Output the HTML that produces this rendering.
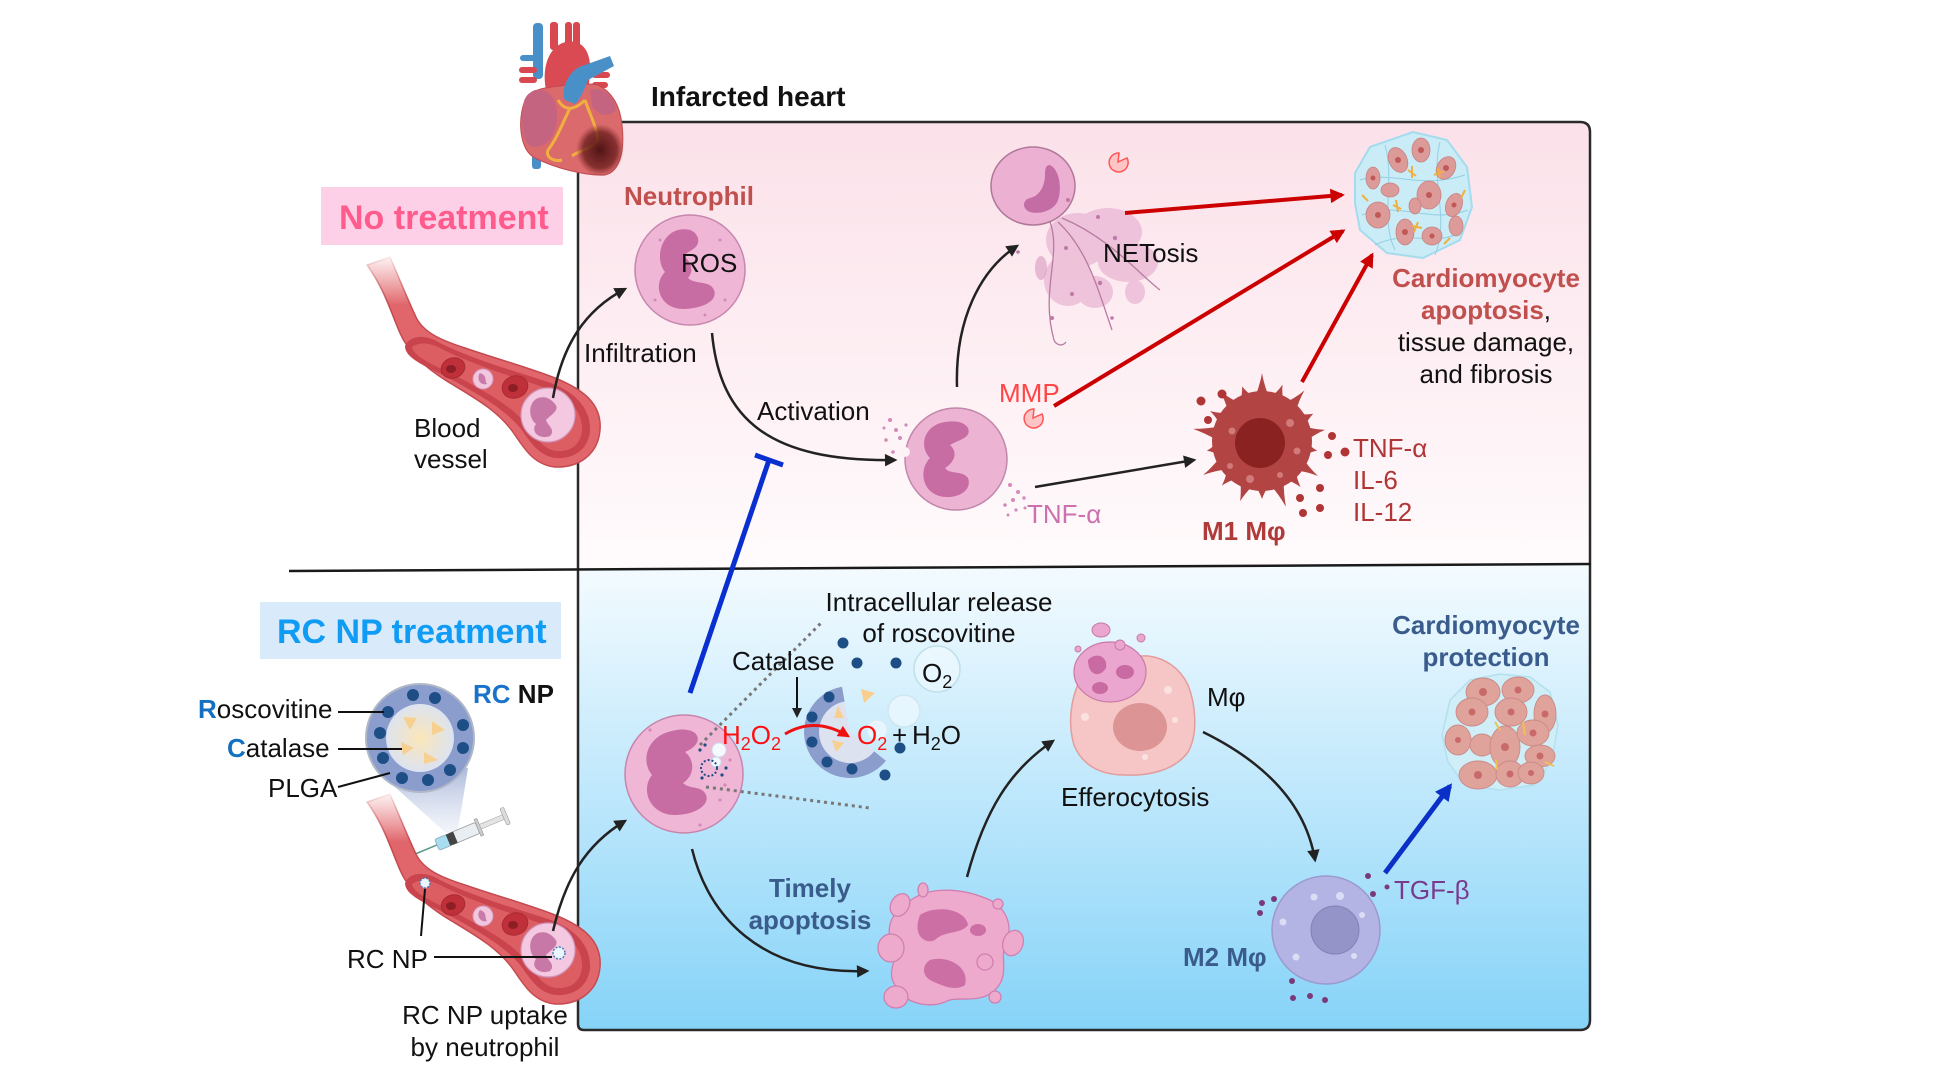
<!DOCTYPE html>
<html><head><meta charset="utf-8">
<style>html,body{margin:0;padding:0;background:#fff;}svg{display:block}</style>
</head><body>
<svg width="1956" height="1069" viewBox="0 0 1956 1069" xmlns="http://www.w3.org/2000/svg" font-family="'Liberation Sans', Arial, sans-serif">
<defs>
  <linearGradient id="gUp" gradientUnits="userSpaceOnUse" x1="0" y1="122" x2="0" y2="567">
    <stop offset="0" stop-color="#fbe1e9"/><stop offset="1" stop-color="#fffbfc"/>
  </linearGradient>
  <linearGradient id="gDown" gradientUnits="userSpaceOnUse" x1="0" y1="567" x2="0" y2="1030">
    <stop offset="0" stop-color="#f4fbff"/><stop offset="1" stop-color="#86d3f8"/>
  </linearGradient>
  <linearGradient id="gVes" gradientUnits="userSpaceOnUse" x1="0" y1="252" x2="0" y2="305">
    <stop offset="0" stop-color="#e8787c" stop-opacity="0"/><stop offset="1" stop-color="#e0666b"/>
  </linearGradient>
  <linearGradient id="gVesS" gradientUnits="userSpaceOnUse" x1="0" y1="252" x2="0" y2="305">
    <stop offset="0" stop-color="#c44a50" stop-opacity="0"/><stop offset="1" stop-color="#c44a50"/>
  </linearGradient>
  <linearGradient id="gCone" gradientUnits="userSpaceOnUse" x1="0" y1="772" x2="0" y2="845">
    <stop offset="0" stop-color="#aebbdc" stop-opacity="0.95"/><stop offset="1" stop-color="#dfe6f3" stop-opacity="0.2"/>
  </linearGradient>
  <radialGradient id="gInf" cx="0.5" cy="0.5" r="0.5">
    <stop offset="0" stop-color="#4a1010" stop-opacity="0.95"/><stop offset="0.7" stop-color="#6a1c1c" stop-opacity="0.75"/><stop offset="1" stop-color="#8a2a2a" stop-opacity="0"/>
  </radialGradient>
  <radialGradient id="gGlow" cx="0.5" cy="0.5" r="0.5">
    <stop offset="0" stop-color="#fbe6b8"/><stop offset="1" stop-color="#dce3f0"/>
  </radialGradient>
  <marker id="mk" viewBox="0 0 10 10" refX="8" refY="5" markerWidth="5.5" markerHeight="5" orient="auto"><path d="M0,0 L10,5 L0,10 Z" fill="#222"/></marker>
  <marker id="mr" viewBox="0 0 10 10" refX="8" refY="5" markerWidth="4.3" markerHeight="3.6" orient="auto"><path d="M0,0 L10,5 L0,10 Z" fill="#cc0000"/></marker>
  <marker id="mr2" viewBox="0 0 10 10" refX="8" refY="5" markerWidth="4.5" markerHeight="4" orient="auto"><path d="M0,0 L10,5 L0,10 Z" fill="#ee1111"/></marker>
  <marker id="mb" viewBox="0 0 10 10" refX="8" refY="5" markerWidth="3.8" markerHeight="3.4" orient="auto"><path d="M0,0 L10,5 L0,10 Z" fill="#0a30c8"/></marker>
</defs>

<rect width="1956" height="1069" fill="#fff"/>

<!-- main box fills -->
<path d="M578,122 H1580 Q1590,122 1590,132 V564 L578,569.4 Z" fill="url(#gUp)"/>
<path d="M578,569.4 L1590,564 V1020 Q1590,1030 1580,1030 H584 Q578,1030 578,1024 Z" fill="url(#gDown)"/>
<path d="M578,122 H1580 Q1590,122 1590,132 V1020 Q1590,1030 1580,1030 H584 Q578,1030 578,1024 Z" fill="none" stroke="#2a2a2a" stroke-width="2.5"/>
<line x1="289" y1="571" x2="1591" y2="564" stroke="#1a1a1a" stroke-width="2.5"/>

<!-- Heart -->
<g>
  <rect x="533" y="23" width="10" height="56" rx="4" fill="#4a90c8"/>
  <rect x="520" y="55" width="16" height="6" rx="3" fill="#4a90c8"/>
  <rect x="532" y="140" width="9" height="29" rx="3" fill="#4a90c8"/>
  <rect x="550" y="22" width="8" height="28" rx="3" fill="#d9474f"/>
  <rect x="565" y="22" width="7" height="26" rx="3" fill="#d9474f"/>
  <rect x="573" y="22" width="7" height="26" rx="3" fill="#d9474f"/>
  <path d="M546,90 C540,60 555,38 575,42 C592,46 592,70 588,88 Z" fill="#d94a52"/>
  <rect x="519" y="67" width="18" height="6" rx="3" fill="#d9474f"/>
  <rect x="519" y="77" width="18" height="6" rx="3" fill="#d9474f"/>
  <rect x="592" y="72" width="18" height="6" rx="3" fill="#d9474f"/>
  <rect x="592" y="82" width="16" height="6" rx="3" fill="#d9474f"/>
  <path d="M525,100 C517,122 520,150 535,158 C555,168 585,176 605,175 C620,172 625,150 622,125 C620,105 612,92 598,85 C580,82 560,86 545,88 C535,90 528,94 525,100 Z" fill="#da6a6c" stroke="#c04a50" stroke-width="1"/>
  <path d="M524,102 C520,122 522,140 530,146 C545,150 556,138 557,118 C558,98 548,88 535,90 C528,93 525,97 524,102 Z" fill="#c46480"/>
  <path d="M590,90 C602,86 615,96 616,110 C610,118 598,116 592,106 Z" fill="#c46480"/>
  <path d="M565,100 C560,92 568,70 582,66 L610,56 L614,66 L588,80 C584,90 580,100 575,104 Z" fill="#4a90c8"/>
  <path d="M558,100 C565,112 575,110 585,100 M585,100 C590,115 596,125 598,140 M570,108 C562,125 556,140 548,150 M598,140 C590,150 580,150 572,156 M548,150 C545,158 555,162 562,160" stroke="#f0b040" stroke-width="3" fill="none"/>
  <ellipse cx="600" cy="150" rx="24" ry="26" fill="url(#gInf)"/>
</g>

<!-- Labels -->
<text x="651" y="106" font-size="28" font-weight="bold" fill="#111">Infarcted heart</text>
<rect x="321" y="187" width="242" height="58" fill="#fdd0e8"/>
<text x="339" y="229" font-size="34" font-weight="bold" fill="#ff5c8d">No treatment</text>
<rect x="260" y="602" width="301" height="57" fill="#d9ebfb"/>
<text x="277" y="643" font-size="34" font-weight="bold" fill="#109cf5">RC NP treatment</text>

<!-- Upper vessel -->
<g id="ves">
  <path d="M390,257 C400,280 408,300 415,315 C422,332 440,340 465,348 C500,360 530,368 555,378 C585,390 602,405 600,430 C598,455 578,468 555,467 C535,465 525,450 515,435 C500,412 475,398 450,383 C425,368 408,352 400,333 C392,315 385,290 367,265 Z" fill="url(#gVes)" stroke="url(#gVesS)" stroke-width="1.5"/>
  <path d="M405,346 C410,335 425,334 440,343 C470,358 510,370 545,381 C576,391 591,409 590,431 C588,451 572,459 556,458 C539,456 531,443 521,429 C506,410 481,396 456,382 C431,368 405,360 405,346 Z" fill="#c9444c"/>
  <path d="M412,347 C420,341 432,343 444,350 C472,364 510,376 543,387 C570,396 583,412 582,431 C580,447 568,452 556,451 C543,449 536,438 527,425 C511,405 485,392 460,378 C437,366 414,358 412,347 Z" fill="#dc5e63"/>
  <ellipse cx="453" cy="368" rx="12" ry="10" transform="rotate(-20 453 368)" fill="#c0303a" stroke="#a82a32"/>
  <ellipse cx="451" cy="369" rx="5" ry="4" fill="#8e1e26"/>
  <ellipse cx="515" cy="387" rx="13" ry="11" transform="rotate(-20 515 387)" fill="#c0303a" stroke="#a82a32"/>
  <ellipse cx="513" cy="388" rx="5" ry="4" fill="#8e1e26"/>
  <circle cx="483" cy="379" r="10" fill="#f2c6df" stroke="#d39abc"/>
  <path d="M480,373 C476,378 480,386 487,384 C484,380 488,376 480,373Z" fill="#c87aa8"/>
  <circle cx="548" cy="415" r="27" fill="#f4c8e0" stroke="#d095b9" stroke-width="1.2"/>
  <path d="M538,398 C528,402 528,418 536,424 C530,432 540,440 550,436 C556,430 548,426 546,420 C552,414 560,410 555,404 C550,398 545,396 538,398Z" fill="#c878a6"/>
</g>
<text x="414" y="437" font-size="26" fill="#111">Blood</text>
<text x="414" y="468" font-size="26" fill="#111">vessel</text>

<!-- Upper neutrophil -->
<circle cx="690" cy="270" r="55" fill="#efb6d6" stroke="#c786ad" stroke-width="1.5"/>
<path d="M678,230 C660,235 655,260 665,272 C652,285 660,310 685,309 C705,308 718,300 714,290 C710,280 695,285 688,278 C695,270 690,260 683,256 C690,250 700,248 698,238 C695,230 688,228 678,230 Z" fill="#c86ca4"/>
<g fill="#d48ab8"><circle cx="660" cy="240" r="1.5"/><circle cx="720" cy="240" r="1.5"/><circle cx="725" cy="300" r="1.5"/><circle cx="655" cy="300" r="1.5"/><circle cx="705" cy="315" r="1.5"/></g>
<text x="681" y="272" font-size="26" fill="#111">ROS</text>
<text x="624" y="205" font-size="26" font-weight="bold" fill="#c0504d">Neutrophil</text>

<!-- arrows upper -->
<path d="M553,398 C562,345 585,310 625,289" fill="none" stroke="#222" stroke-width="2.5" marker-end="url(#mk)"/>
<text x="584" y="362" font-size="26" fill="#111">Infiltration</text>
<path d="M712,333 C720,420 770,462 895,460" fill="none" stroke="#222" stroke-width="2.5" marker-end="url(#mk)"/>
<text x="757" y="420" font-size="26" fill="#111">Activation</text>
<path d="M957,387 C955,320 980,270 1017,246" fill="none" stroke="#222" stroke-width="2.5" marker-end="url(#mk)"/>
<path d="M1035,487 L1194,460" fill="none" stroke="#222" stroke-width="2.5" marker-end="url(#mk)"/>

<!-- activated neutrophil -->
<g>
  <circle cx="956" cy="459" r="51" fill="#edb3d3" stroke="#c287ab" stroke-width="1.5"/>
  <circle cx="905" cy="452" r="5" fill="#fdf2f6"/>
  <circle cx="1005" cy="495" r="6" fill="#fdf6f8"/>
  <circle cx="1006" cy="432" r="4" fill="#fdf4f7"/>
  <path d="M945,422 C925,425 918,445 930,458 C918,470 922,495 945,497 C962,498 972,488 968,478 C962,470 950,475 945,468 C955,462 958,452 950,445 C958,440 972,438 968,428 C963,420 952,421 945,422 Z" fill="#c86ca4"/>
  <g fill="#d48ab8">
    <circle cx="890" cy="420" r="2"/><circle cx="896" cy="430" r="2"/><circle cx="886" cy="440" r="1.8"/><circle cx="900" cy="438" r="2"/><circle cx="893" cy="452" r="1.8"/><circle cx="884" cy="428" r="1.5"/><circle cx="906" cy="425" r="1.6"/>
    <circle cx="1010" cy="485" r="2"/><circle cx="1018" cy="492" r="2"/><circle cx="1013" cy="500" r="2"/><circle cx="1024" cy="498" r="1.7"/><circle cx="1005" cy="505" r="1.8"/><circle cx="1016" cy="510" r="1.6"/><circle cx="1025" cy="508" r="1.5"/><circle cx="1008" cy="515" r="1.5"/>
  </g>
</g>
<text x="1027" y="523" font-size="26" fill="#cc70b0">TNF-α</text>

<!-- MMP -->
<text x="999" y="402" font-size="26" fill="#ff4545">MMP</text>
<path d="M1033,418 L1042,414 A9.5,9.5 0 1 1 1034,409 Z" fill="#ffc4c4" stroke="#ff5555" stroke-width="1.5"/>
<path d="M1118,162 L1127,158 A9.5,9.5 0 1 1 1119,153 Z" fill="#ffc4c4" stroke="#ff5555" stroke-width="1.5"/>

<!-- NETosis -->
<g>
  <g fill="#e7afd0" opacity="0.65">
    <ellipse cx="1078" cy="240" rx="32" ry="27"/>
    <ellipse cx="1108" cy="232" rx="34" ry="24"/>
    <ellipse cx="1128" cy="262" rx="30" ry="20"/>
    <ellipse cx="1068" cy="280" rx="24" ry="26"/>
    <ellipse cx="1095" cy="292" rx="18" ry="16"/>
    <ellipse cx="1135" cy="292" rx="10" ry="12"/>
  </g>
  <ellipse cx="1041" cy="268" rx="6" ry="12" fill="#dea3c6" opacity="0.7"/>
  <path d="M1050,222 C1062,255 1040,290 1054,340 C1056,345 1062,347 1066,342 M1058,222 C1088,250 1098,290 1112,330 M1062,218 C1110,238 1140,275 1160,290" stroke="#b87aa0" stroke-width="1.3" fill="none"/>
  <ellipse cx="1033" cy="186" rx="42" ry="39" fill="#ecb0d2" stroke="#b07898" stroke-width="1.5"/>
  <path d="M1050,165 C1060,170 1062,190 1058,200 C1055,210 1040,215 1030,212 C1022,209 1022,200 1030,198 C1040,196 1045,185 1045,175 C1045,168 1046,165 1050,165 Z" fill="#c46ca4"/>
  <g fill="#c078a8"><circle cx="1068" cy="200" r="2"/><circle cx="1098" cy="217" r="2"/><circle cx="1115" cy="238" r="2.2"/><circle cx="1066" cy="248" r="2"/><circle cx="1072" cy="294" r="2"/><circle cx="1100" cy="283" r="2.2"/><circle cx="1052" cy="318" r="2"/><circle cx="1018" cy="252" r="1.8"/><circle cx="1112" cy="318" r="1.8"/></g>
</g>
<text x="1103" y="262" font-size="26" fill="#111">NETosis</text>

<!-- Red arrows -->
<line x1="1125" y1="213" x2="1342" y2="195" stroke="#cc0000" stroke-width="4" marker-end="url(#mr)"/>
<line x1="1054" y1="406" x2="1343" y2="231" stroke="#cc0000" stroke-width="4" marker-end="url(#mr)"/>
<line x1="1302" y1="382" x2="1372" y2="255" stroke="#cc0000" stroke-width="4" marker-end="url(#mr)"/>

<!-- upper cardio cluster -->
<g>
  <polygon points="1355,173 1370,147 1413,132 1447,140 1467,167 1472,207 1460,240 1423,258 1387,253 1360,230 1355,203" fill="#c9ecf6" stroke="#a5dbee" stroke-width="2"/>
  <g stroke="#93cfe4" stroke-width="1" fill="none">
    <path d="M1360,180 C1390,170 1420,190 1465,175"/><path d="M1362,215 C1400,200 1430,225 1468,210"/><path d="M1375,245 C1405,230 1430,245 1455,235"/><path d="M1385,145 C1395,180 1380,220 1395,250"/><path d="M1440,142 C1430,180 1450,220 1435,255"/>
  </g>
  <g fill="#dc9a98" stroke="#c88282" stroke-width="0.8">
    <ellipse cx="1398" cy="160" rx="9" ry="13" transform="rotate(-25 1398 160)"/>
    <ellipse cx="1421" cy="150" rx="9" ry="12"/>
    <ellipse cx="1446" cy="168" rx="9" ry="12" transform="rotate(30 1446 168)"/>
    <ellipse cx="1373" cy="178" rx="7" ry="11"/>
    <ellipse cx="1390" cy="190" rx="9" ry="7"/>
    <ellipse cx="1429" cy="195" rx="12" ry="14"/>
    <ellipse cx="1454" cy="205" rx="8" ry="12" transform="rotate(20 1454 205)"/>
    <ellipse cx="1378" cy="215" rx="12" ry="13"/>
    <ellipse cx="1405" cy="232" rx="9" ry="13"/>
    <ellipse cx="1432" cy="236" rx="10" ry="9"/>
    <ellipse cx="1456" cy="226" rx="7" ry="10"/>
    <ellipse cx="1415" cy="206" rx="6" ry="8"/>
  </g>
  <g fill="#c05858">
    <circle cx="1398" cy="160" r="3"/><circle cx="1421" cy="150" r="3"/><circle cx="1446" cy="168" r="3"/><circle cx="1373" cy="178" r="2.5"/><circle cx="1429" cy="195" r="3"/><circle cx="1454" cy="205" r="2.5"/><circle cx="1378" cy="215" r="3"/><circle cx="1405" cy="232" r="3"/><circle cx="1432" cy="236" r="2.5"/>
  </g>
  <g stroke="#f0b040" stroke-width="2" fill="none">
    <path d="M1408,170 l8,6 M1412,166 l0,12"/><path d="M1434,175 l10,-4 M1438,168 l2,10"/><path d="M1393,205 l8,4 M1396,200 l2,12"/><path d="M1418,222 l-4,10 M1412,226 l10,2"/><path d="M1362,195 l6,6"/><path d="M1465,190 l-4,8"/><path d="M1444,244 l6,-6"/>
  </g>
</g>
<text font-size="26" font-weight="bold" fill="#c0504d" text-anchor="middle" x="1486" y="287">Cardiomyocyte</text>
<text font-size="26" text-anchor="middle" x="1486" y="319"><tspan font-weight="bold" fill="#c0504d">apoptosis</tspan><tspan fill="#111">,</tspan></text>
<text font-size="26" fill="#111" text-anchor="middle" x="1486" y="351">tissue damage,</text>
<text font-size="26" fill="#111" text-anchor="middle" x="1486" y="383">and fibrosis</text>

<!-- M1 macrophage -->
<g transform="translate(1262,441)" fill="#b24444">
  <circle r="50"/>
  <path transform="rotate(0)" d="M-7,-44 Q-2,-56 0,-68 Q2,-56 7,-44Z"/>
  <path transform="rotate(20)" d="M-7,-44 Q-2,-52 0,-60 Q2,-52 7,-44Z"/>
  <path transform="rotate(40)" d="M-7,-44 Q-2,-55 0,-66 Q2,-55 7,-44Z"/>
  <path transform="rotate(62)" d="M-7,-44 Q-2,-52 0,-58 Q2,-52 7,-44Z"/>
  <path transform="rotate(80)" d="M-7,-44 Q-2,-55 0,-64 Q2,-55 7,-44Z"/>
  <path transform="rotate(100)" d="M-7,-44 Q-2,-50 0,-56 Q2,-50 7,-44Z"/>
  <path transform="rotate(122)" d="M-7,-44 Q-2,-55 0,-66 Q2,-55 7,-44Z"/>
  <path transform="rotate(140)" d="M-7,-44 Q-2,-52 0,-60 Q2,-52 7,-44Z"/>
  <path transform="rotate(160)" d="M-7,-44 Q-2,-58 0,-70 Q2,-58 7,-44Z"/>
  <path transform="rotate(180)" d="M-7,-44 Q-2,-52 0,-58 Q2,-52 7,-44Z"/>
  <path transform="rotate(200)" d="M-7,-44 Q-2,-55 0,-64 Q2,-55 7,-44Z"/>
  <path transform="rotate(222)" d="M-7,-44 Q-2,-52 0,-60 Q2,-52 7,-44Z"/>
  <path transform="rotate(240)" d="M-7,-44 Q-2,-57 0,-68 Q2,-57 7,-44Z"/>
  <path transform="rotate(260)" d="M-7,-44 Q-2,-50 0,-56 Q2,-50 7,-44Z"/>
  <path transform="rotate(280)" d="M-7,-44 Q-2,-58 0,-70 Q2,-58 7,-44Z"/>
  <path transform="rotate(300)" d="M-7,-44 Q-2,-52 0,-60 Q2,-52 7,-44Z"/>
  <path transform="rotate(320)" d="M-7,-44 Q-2,-55 0,-66 Q2,-55 7,-44Z"/>
  <path transform="rotate(340)" d="M-7,-44 Q-2,-52 0,-58 Q2,-52 7,-44Z"/>
  <circle cx="-2" cy="2" r="25" fill="#8b2222"/>
  <g fill="#d27a7a"><circle cx="-30" cy="-10" r="3.5"/><circle cx="28" cy="-18" r="4"/><circle cx="-12" cy="38" r="4"/><circle cx="18" cy="34" r="3"/><circle cx="35" cy="10" r="3.5"/><circle cx="-32" cy="25" r="3"/></g>
</g>
<g fill="#b03535"><circle cx="1201" cy="401" r="4.5"/><circle cx="1222" cy="394" r="4.5"/><circle cx="1208" cy="420" r="4"/><circle cx="1332" cy="436" r="4"/><circle cx="1328" cy="455" r="4"/><circle cx="1345" cy="452" r="4.5"/><circle cx="1320" cy="488" r="4"/><circle cx="1300" cy="498" r="4"/><circle cx="1320" cy="508" r="4"/><circle cx="1303" cy="513" r="4"/></g>
<text x="1202" y="540" font-size="26" font-weight="bold" fill="#b03a3a">M1 Mφ</text>
<text x="1353" y="457" font-size="26" fill="#b03535">TNF-α</text>
<text x="1353" y="489" font-size="26" fill="#b03535">IL-6</text>
<text x="1353" y="521" font-size="26" fill="#b03535">IL-12</text>

<!-- Blue inhibition line -->
<line x1="690" y1="693" x2="769" y2="460" stroke="#0a2fd0" stroke-width="5"/>
<line x1="755" y1="455" x2="783" y2="465" stroke="#0a2fd0" stroke-width="5"/>

<!-- Lower left: RC NP diagram -->
<polygon points="376,770 468,768 456,842" fill="url(#gCone)"/>
<g transform="translate(413,855) rotate(-22.8)">
  <line x1="0" y1="0" x2="26" y2="0" stroke="#5a9a8a" stroke-width="1.5"/>
  <rect x="26" y="-6" width="14" height="12" rx="2" fill="#a8dcef" stroke="#8ab" stroke-width="0.8"/>
  <rect x="40" y="-6" width="30" height="12" rx="2" fill="#e8eef2" stroke="#999" stroke-width="0.8"/>
  <rect x="38" y="-6" width="8" height="12" fill="#444"/>
  <rect x="70" y="-9" width="3" height="18" fill="#ccc" stroke="#999" stroke-width="0.6"/>
  <rect x="73" y="-2.5" width="26" height="5" fill="#e4e4e4" stroke="#aaa" stroke-width="0.6"/>
  <rect x="98" y="-9" width="4" height="18" rx="1.5" fill="#ddd" stroke="#999" stroke-width="0.6"/>
</g>
<circle cx="420" cy="738" r="54" fill="#8a9dcc" stroke="#b0b8c8" stroke-width="2"/>
<circle cx="420" cy="738" r="34" fill="url(#gGlow)"/>
<g fill="#1e4e86"><circle cx="413" cy="695" r="6"/><circle cx="435" cy="698" r="6"/><circle cx="388" cy="712" r="6"/><circle cx="463" cy="725" r="6"/><circle cx="380" cy="733" r="6"/><circle cx="463" cy="748" r="6"/><circle cx="383" cy="758" r="6"/><circle cx="450" cy="770" r="6"/><circle cx="402" cy="778" r="6"/><circle cx="428" cy="780" r="6"/></g>
<g fill="#f8cf8e" opacity="0.95"><polygon points="403,717 417,718 410,730"/><polygon points="432,721 445,730 432,735"/><polygon points="401,742 414,748 403,755"/><polygon points="424,752 438,760 424,764"/></g>
<text x="198" y="718" font-size="26" fill="#111"><tspan font-weight="bold" fill="#1470c0">R</tspan>oscovitine</text>
<line x1="338" y1="712" x2="384" y2="712" stroke="#111" stroke-width="2"/>
<text x="227" y="757" font-size="26" fill="#111"><tspan font-weight="bold" fill="#1470c0">C</tspan>atalase</text>
<line x1="338" y1="749" x2="402" y2="749" stroke="#111" stroke-width="2"/>
<text x="268" y="797" font-size="26" fill="#111">PLGA</text>
<line x1="338" y1="787" x2="390" y2="773" stroke="#111" stroke-width="2"/>
<text x="473" y="703" font-size="26" font-weight="bold"><tspan fill="#1a73c8">RC</tspan><tspan fill="#111"> NP</tspan></text>

<!-- Lower vessel -->
<g transform="translate(0,537)">
  <path d="M390,257 C400,280 408,300 415,315 C422,332 440,340 465,348 C500,360 530,368 555,378 C585,390 602,405 600,430 C598,455 578,468 555,467 C535,465 525,450 515,435 C500,412 475,398 450,383 C425,368 408,352 400,333 C392,315 385,290 367,265 Z" fill="url(#gVes)" stroke="url(#gVesS)" stroke-width="1.5"/>
  <path d="M405,346 C410,335 425,334 440,343 C470,358 510,370 545,381 C576,391 591,409 590,431 C588,451 572,459 556,458 C539,456 531,443 521,429 C506,410 481,396 456,382 C431,368 405,360 405,346 Z" fill="#c9444c"/>
  <path d="M412,347 C420,341 432,343 444,350 C472,364 510,376 543,387 C570,396 583,412 582,431 C580,447 568,452 556,451 C543,449 536,438 527,425 C511,405 485,392 460,378 C437,366 414,358 412,347 Z" fill="#dc5e63"/>
  <ellipse cx="453" cy="368" rx="12" ry="10" transform="rotate(-20 453 368)" fill="#c0303a" stroke="#a82a32"/>
  <ellipse cx="451" cy="369" rx="5" ry="4" fill="#8e1e26"/>
  <ellipse cx="515" cy="387" rx="13" ry="11" transform="rotate(-20 515 387)" fill="#c0303a" stroke="#a82a32"/>
  <ellipse cx="513" cy="388" rx="5" ry="4" fill="#8e1e26"/>
  <circle cx="483" cy="379" r="10" fill="#f2c6df" stroke="#d39abc"/>
  <path d="M480,373 C476,378 480,386 487,384 C484,380 488,376 480,373Z" fill="#c87aa8"/>
  <circle cx="548" cy="413" r="27" fill="#f4c8e0" stroke="#d095b9" stroke-width="1.2"/>
  <path d="M538,396 C528,400 528,416 536,422 C530,430 540,438 550,434 C556,428 548,424 546,418 C552,412 560,408 555,402 C550,396 545,394 538,396Z" fill="#c878a6"/>
</g>
<circle cx="425" cy="883" r="5" fill="#eaf4fb" stroke="#4a7ab8" stroke-width="1.5" stroke-dasharray="2 1.5"/>
<circle cx="559" cy="953" r="6" fill="#eaf4fb" stroke="#4a7ab8" stroke-width="1.5" stroke-dasharray="2 1.5"/>
<line x1="425" y1="889" x2="421" y2="936" stroke="#111" stroke-width="2"/>
<line x1="434" y1="957" x2="552" y2="957" stroke="#111" stroke-width="2"/>
<text x="347" y="968" font-size="26" fill="#111">RC NP</text>
<text x="485" y="1024" font-size="26" fill="#111" text-anchor="middle">RC NP uptake</text>
<text x="485" y="1056" font-size="26" fill="#111" text-anchor="middle">by neutrophil</text>

<!-- lower infiltration -->
<path d="M553,931 C565,880 585,845 625,821" fill="none" stroke="#222" stroke-width="2.5" marker-end="url(#mk)"/>

<!-- lower neutrophil -->
<circle cx="684" cy="774" r="59" fill="#efb6d6" stroke="#c786ad" stroke-width="1.5"/>
<path d="M668,732 C648,738 640,760 652,775 C640,790 650,815 675,815 C695,815 710,805 706,795 C702,785 690,790 683,783 C695,775 695,760 685,752 C695,748 702,740 695,733 C688,728 678,729 668,732 Z" fill="#c86ca4"/>
<g fill="#d48ab8"><circle cx="650" cy="730" r="1.6"/><circle cx="720" cy="800" r="1.6"/><circle cx="730" cy="760" r="1.6"/><circle cx="700" cy="825" r="1.6"/><circle cx="725" cy="785" r="1.6"/></g>
<circle cx="719" cy="750" r="7" fill="#f4fafd" stroke="#cde" stroke-width="1"/>
<circle cx="716" cy="762" r="5" fill="#f4fafd" stroke="#cde" stroke-width="1"/>
<circle cx="709" cy="768" r="8" fill="none" stroke="#1e4e86" stroke-width="2" stroke-dasharray="2 2"/>
<g fill="#1e4e86"><circle cx="700" cy="750" r="1.6"/><circle cx="705" cy="745" r="1.6"/><circle cx="722" cy="775" r="1.6"/><circle cx="702" cy="778" r="1.6"/><circle cx="726" cy="768" r="1.6"/></g>

<!-- dotted lines -->
<line x1="700" y1="745" x2="822" y2="622" stroke="#777" stroke-width="3" stroke-dasharray="3 4"/>
<line x1="706" y1="787" x2="870" y2="808" stroke="#777" stroke-width="3" stroke-dasharray="3 4"/>

<!-- reaction zoom -->
<circle cx="937" cy="669" r="23" fill="#ffffff" fill-opacity="0.35" stroke="#bfe0ea" stroke-width="1.5"/>
<circle cx="904" cy="711" r="16" fill="#ffffff" fill-opacity="0.45" stroke="#cfe6ee" stroke-width="1.5"/>
<circle cx="877" cy="730" r="10" fill="#ffffff" fill-opacity="0.5" stroke="#d6ecf2" stroke-width="1"/>
<path d="M850,732 L844.6,701.5 A31,31 0 1 0 874.2,751.4 Z" fill="#dde2f1"/>
<path d="M842,686.7 A46,46 0 1 0 885.9,760.8 L874.2,751.4 A31,31 0 1 1 844.6,701.5 Z" fill="#8a9dcc"/>
<g fill="#1e4e86"><circle cx="829" cy="697" r="5.5"/><circle cx="812" cy="717" r="5.5"/><circle cx="812" cy="742" r="5.5"/><circle cx="827" cy="762" r="5.5"/><circle cx="852" cy="769" r="5.5"/>
<circle cx="843" cy="643" r="5.5"/><circle cx="857" cy="663" r="5.5"/><circle cx="896" cy="663" r="5.5"/><circle cx="900" cy="748" r="5.5"/><circle cx="885" cy="775" r="5.5"/></g>
<g fill="#f8cf8e"><polygon points="861,689 875,693 864,703"/><polygon points="838,706 844,718 834,718"/><polygon points="832,740 844,743 836,752"/></g>
<text x="939" y="611" font-size="26" fill="#111" text-anchor="middle">Intracellular release</text>
<text x="939" y="642" font-size="26" fill="#111" text-anchor="middle">of roscovitine</text>
<text x="732" y="670" font-size="26" fill="#111">Catalase</text>
<line x1="797" y1="677" x2="797" y2="716" stroke="#111" stroke-width="2" marker-end="url(#mk)"/>
<text x="922" y="682" font-size="26" fill="#111">O<tspan font-size="18" dy="6">2</tspan></text>
<text x="722" y="744" font-size="26" fill="#ff1010">H<tspan font-size="18" dy="6">2</tspan><tspan dy="-6">O</tspan><tspan font-size="18" dy="6">2</tspan></text>
<path d="M785,734 Q815,716 848,736" fill="none" stroke="#ee1111" stroke-width="3" marker-end="url(#mr2)"/>
<text x="857" y="744" font-size="26" fill="#ff1010">O<tspan font-size="18" dy="6">2</tspan></text>
<text x="892" y="744" font-size="26" fill="#111">+</text>
<text x="912" y="744" font-size="26" fill="#111">H<tspan font-size="18" dy="6">2</tspan><tspan dy="-6">O</tspan></text>

<!-- Timely apoptosis -->
<path d="M692,849 C708,915 760,975 867,971" fill="none" stroke="#222" stroke-width="2.5" marker-end="url(#mk)"/>
<text x="810" y="897" font-size="26" font-weight="bold" fill="#3a5c8c" text-anchor="middle">Timely</text>
<text x="810" y="929" font-size="26" font-weight="bold" fill="#3a5c8c" text-anchor="middle">apoptosis</text>

<!-- apoptotic cell -->
<g fill="#eeaacc" stroke="#d07fb0" stroke-width="1.3">
  <path d="M905,905 C925,885 960,888 985,898 C1005,905 1015,925 1005,945 C1000,960 1010,975 995,990 C980,1005 955,995 945,1002 C925,1010 900,1000 895,985 C885,970 900,960 893,945 C885,930 890,915 905,905 Z"/>
  <ellipse cx="900" cy="905" rx="9" ry="12" transform="rotate(30 900 905)"/>
  <ellipse cx="923" cy="890" rx="5" ry="7"/>
  <circle cx="998" cy="904" r="5"/>
  <ellipse cx="1013" cy="943" rx="10" ry="13" transform="rotate(20 1013 943)"/>
  <circle cx="985" cy="962" r="8"/>
  <ellipse cx="891" cy="948" rx="13" ry="14"/>
  <ellipse cx="896" cy="997" rx="12" ry="11"/>
  <circle cx="995" cy="997" r="6"/>
</g>
<g fill="#cc6fa4"><path d="M920,915 C935,905 965,908 968,925 C960,935 945,930 935,940 C925,945 912,935 920,915Z"/><path d="M930,960 C945,955 970,965 965,985 C955,992 940,985 930,980 C922,975 922,965 930,960Z"/><ellipse cx="978" cy="930" rx="8" ry="6"/></g>

<!-- arrow to efferocytosis -->
<path d="M967,877 C985,810 1010,770 1053,741" fill="none" stroke="#222" stroke-width="2.5" marker-end="url(#mk)"/>

<!-- efferocytosis Mphi -->
<g>
  <path d="M1080,680 C1070,700 1068,725 1074,745 C1082,765 1100,775 1125,775 C1150,776 1175,770 1188,752 C1198,735 1196,705 1188,685 C1180,668 1165,658 1148,656 C1135,655 1125,660 1118,668 Z" fill="#f6c6c6" stroke="#e49c9c" stroke-width="1.5"/>
  <ellipse cx="1140" cy="727" rx="27" ry="24" fill="#dc9494"/>
  <g fill="#fbe2e2"><circle cx="1168" cy="690" r="4"/><circle cx="1085" cy="717" r="4"/><circle cx="1175" cy="720" r="3"/><circle cx="1145" cy="757" r="3"/></g>
  <ellipse cx="1110" cy="672" rx="36" ry="30" fill="#eaa6ce" stroke="#c87aa8" stroke-width="1.2"/>
  <g fill="#c96aa2"><path d="M1088,660 C1095,652 1108,655 1106,668 C1100,678 1088,676 1088,660Z"/><ellipse cx="1125" cy="672" rx="9" ry="7"/><ellipse cx="1100" cy="688" rx="8" ry="6"/></g>
  <g fill="#eaa6ce" stroke="#c87aa8" stroke-width="1"><ellipse cx="1101" cy="630" rx="9" ry="7"/><circle cx="1120" cy="645" r="5"/><circle cx="1141" cy="638" r="4"/><circle cx="1078" cy="649" r="3"/></g>
</g>
<text x="1207" y="706" font-size="26" fill="#111">Mφ</text>
<text x="1061" y="806" font-size="26" fill="#111">Efferocytosis</text>
<path d="M1203,732 C1260,760 1305,800 1315,860" fill="none" stroke="#222" stroke-width="2.5" marker-end="url(#mk)"/>

<!-- M2 -->
<circle cx="1326" cy="930" r="54" fill="#b4b4e4" stroke="#9a9ad0" stroke-width="1.5"/>
<circle cx="1335" cy="930" r="24" fill="#9494c8" stroke="#8282b8" stroke-width="1"/>
<g fill="#dcdcf4"><circle cx="1314" cy="897" r="3.5"/><circle cx="1340" cy="896" r="4"/><circle cx="1283" cy="922" r="3.5"/><circle cx="1296" cy="957" r="3.5"/><circle cx="1354" cy="956" r="3"/><circle cx="1362" cy="915" r="3"/></g>
<g fill="#7a3a7a"><circle cx="1368" cy="876" r="3"/><circle cx="1373" cy="894" r="3"/><circle cx="1274" cy="899" r="3"/><circle cx="1262" cy="903" r="3"/><circle cx="1260" cy="913" r="3"/><circle cx="1292" cy="981" r="3"/><circle cx="1293" cy="998" r="3"/><circle cx="1310" cy="996" r="3"/><circle cx="1325" cy="1000" r="3"/><circle cx="1387" cy="887" r="2.5"/></g>
<text x="1183" y="966" font-size="26" font-weight="bold" fill="#3a5c8c">M2 Mφ</text>
<text x="1394" y="899" font-size="26" fill="#7a3a8c">TGF-β</text>

<!-- blue arrow -->
<line x1="1385" y1="873" x2="1450" y2="786" stroke="#0a30c8" stroke-width="5" marker-end="url(#mb)"/>

<!-- healthy cardio -->
<g>
  <polygon points="1450,700 1470,680 1500,674 1530,677 1550,692 1558,725 1552,760 1535,785 1500,790 1465,785 1448,762 1442,735" fill="#cfeef7" stroke="#b3e0ee" stroke-width="1.5"/>
  <g fill="#e0a39b" stroke="#c98a86" stroke-width="0.9">
    <ellipse cx="1483" cy="692" rx="17" ry="14"/><ellipse cx="1518" cy="690" rx="16" ry="13"/><ellipse cx="1545" cy="714" rx="11" ry="19"/>
    <ellipse cx="1472" cy="712" rx="16" ry="14"/><ellipse cx="1511" cy="712" rx="16" ry="14"/><ellipse cx="1458" cy="740" rx="13" ry="15"/>
    <ellipse cx="1482" cy="745" rx="12" ry="11"/><ellipse cx="1505" cy="747" rx="15" ry="21"/><ellipse cx="1533" cy="733" rx="16" ry="13"/>
    <ellipse cx="1540" cy="756" rx="15" ry="11"/><ellipse cx="1478" cy="775" rx="19" ry="14"/><ellipse cx="1510" cy="774" rx="14" ry="13"/><ellipse cx="1531" cy="773" rx="13" ry="11"/>
  </g>
  <g fill="#c86a6a"><circle cx="1483" cy="692" r="4"/><circle cx="1518" cy="690" r="3.5"/><circle cx="1545" cy="714" r="3.5"/><circle cx="1472" cy="712" r="3.5"/><circle cx="1511" cy="712" r="3.5"/><circle cx="1458" cy="740" r="3"/><circle cx="1505" cy="747" r="4"/><circle cx="1533" cy="733" r="3.5"/><circle cx="1540" cy="756" r="3.5"/><circle cx="1478" cy="775" r="4"/><circle cx="1510" cy="774" r="3.5"/><circle cx="1531" cy="773" r="3"/></g>
  <g stroke="#f0c050" stroke-width="2"><line x1="1495" y1="722" x2="1500" y2="730"/><line x1="1523" y1="722" x2="1525" y2="735"/><line x1="1545" y1="762" x2="1554" y2="766"/><line x1="1496" y1="760" x2="1497" y2="770"/></g>
</g>
<text font-size="26" font-weight="bold" fill="#3a5c8c" text-anchor="middle" x="1486" y="634">Cardiomyocyte</text>
<text font-size="26" font-weight="bold" fill="#3a5c8c" text-anchor="middle" x="1486" y="666">protection</text>

</svg>
</body></html>
